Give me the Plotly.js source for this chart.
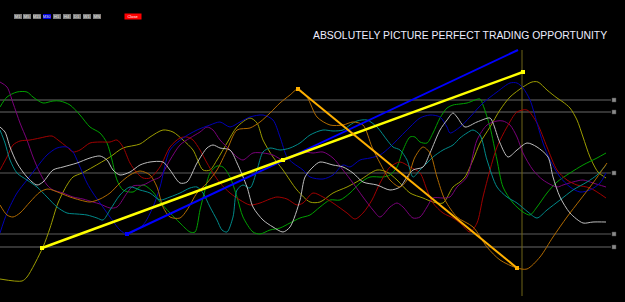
<!DOCTYPE html>
<html><head><meta charset="utf-8">
<script src="https://cdn.plot.ly/plotly-3.0.1.min.js"></script>
<style>html,body{margin:0;padding:0;background:#000;}#c{width:625px;height:302px;}</style>
</head><body><div id="c"></div>
<script>
// Series values (bar position, indicator level in chart units; y grows downward)
const oliveX=[0,22,27,43,50,58,67,73,82,93,110,123,140,150,163,173,183,193,203,210,217,227,237,250,257,263,273,283,297,310,320,333,347,360,377,387,397,410,423,433,443,453,460,465,473,480,490,500,510,523,532,538,547,557,563,570,577,583,590,598,606];
const oliveY=[279,281,277,247,228,203,185,177,173,167,157,148,144,137,130,132,140,150,170,170,160,143,127,118,123,140,157,170,190,202,202,193,187,180,170,172,180,193,198,202,203,187,182,177,160,143,127,110,97,87,82,82,90,98,102,108,120,137,157,172,178];
const greenX=[0,7,17,27,33,43,53,60,70,80,90,100,107,112,117,123,133,143,153,160,170,180,190,195,200,205,210,217,223,230,237,243,253,260,270,280,290,300,310,320,330,340,350,360,370,383,390,397,403,410,415,420,427,433,440,447,453,460,467,480,483,490,497,503,513,523,530,537,547,557,570,583,597,606];
const greenY=[107,97,92,92,97,103,101,101,105,115,127,133,143,160,180,190,192,185,192,202,213,223,232,232,210,190,173,166,167,177,197,217,232,234,230,228,223,218,215,207,200,200,193,183,177,177,175,167,150,137,137,142,143,133,118,108,105,104,103,99,105,127,160,187,203,212,215,207,193,182,173,165,158,153];
const purpleX=[0,7,13,20,27,33,40,47,53,63,73,83,93,100,110,117,127,133,143,153,160,170,180,190,200,207,213,220,230,237,243,253,263,273,283,293,303,313,323,333,343,353,363,373,380,390,397,403,413,420,427,433,443,450,457,467,477,487,497,503,510,517,523,533,543,557,563,573,583,593,606];
const purpleY=[82,87,103,123,140,157,173,185,190,193,197,199,202,204,208,207,193,186,185,180,177,160,145,138,132,127,130,140,150,157,160,153,153,155,160,157,152,153,152,158,170,183,197,210,217,207,203,207,218,217,207,198,198,197,187,177,140,125,121,121,125,137,153,170,180,187,185,182,180,183,187];
const redX=[0,7,13,20,30,40,52,58,67,73,80,90,100,110,117,123,130,137,143,150,160,170,180,187,193,200,207,213,220,230,240,250,260,270,277,287,297,303,313,323,333,347,355,363,372,380,390,400,410,420,427,433,443,453,460,470,477,483,490,497,507,517,527,537,547,557,567,577,590,606];
const redY=[170,157,145,141,140,138,136,140,147,152,150,143,142,142,140,147,163,173,178,178,167,147,138,137,140,150,163,173,183,193,200,205,203,199,197,199,205,203,193,197,203,213,219,213,200,183,167,162,167,173,190,203,213,218,223,232,223,197,170,147,127,112,110,123,147,170,180,185,188,198];
const blueX=[0,7,17,27,37,47,57,67,73,80,87,93,100,110,120,127,143,153,160,170,183,197,210,220,230,240,250,263,273,280,287,293,303,310,323,333,343,350,360,370,380,390,400,410,420,430,440,447,450,460,470,483,497,510,517,523,530,537,543,550,560,570,580,590,600,606];
const blueY=[233,213,193,180,167,155,148,147,152,167,183,193,203,217,230,234,225,207,187,150,138,130,125,122,127,122,117,115,120,137,157,163,170,177,179,175,165,167,160,158,155,147,137,127,118,115,117,127,133,127,117,103,92,83,83,88,100,123,143,160,177,187,192,190,183,173];
const tealX=[0,5,10,17,27,37,47,57,67,77,87,97,103,110,120,130,140,150,160,170,180,190,197,203,210,217,222,227,233,237,243,250,257,263,270,280,290,300,310,323,333,343,350,357,367,377,387,393,400,407,413,420,427,433,443,453,460,467,473,480,487,497,507,517,528,537,547,560,573,587,597,606];
const tealY=[130,143,160,173,180,187,197,207,213,214,215,218,220,210,195,187,190,193,200,197,193,188,187,193,207,220,230,232,217,190,185,188,170,152,148,150,148,143,135,130,131,130,125,121,120,127,140,147,150,160,177,170,163,157,150,145,138,133,130,135,160,187,197,203,212,218,210,200,190,182,175,165,158];
const grayX=[0,5,10,17,27,37,43,53,63,77,90,100,107,113,120,130,140,150,163,170,180,187,197,207,213,220,230,237,247,253,263,273,283,290,300,305,313,320,333,343,353,363,377,390,400,407,413,423,430,440,447,453,457,465,477,490,493,500,508,517,527,537,548,553,560,570,583,593,606];
const grayY=[127,132,147,163,177,185,182,170,167,163,158,156,160,170,175,172,165,162,162,170,183,182,163,148,145,148,150,163,187,207,220,227,232,227,200,177,167,162,165,167,173,182,185,190,187,177,170,167,153,130,120,113,117,127,122,118,123,143,157,150,143,147,157,177,197,213,223,222,222];
const brownX=[0,7,13,20,30,40,48,60,70,80,90,100,110,120,130,140,150,157,163,170,180,187,197,207,217,227,237,250,260,270,280,290,298,307,317,330,343,353,363,372,380,390,400,407,415,423,430,437,445,457,473,487,500,517,527,540,553,567,580,593,607];
const brownY=[205,215,217,213,202,192,189,193,197,200,202,199,193,183,175,171,175,187,207,217,218,210,193,183,170,150,130,128,122,113,103,95,89,97,117,125,125,122,125,147,163,180,187,180,157,147,153,177,200,217,227,247,260,268,269,257,237,217,200,183,163];

// Drawn objects (trend lines, levels, cursor)
const yellowTrend={x:[42,283,523],y:[248,160,72]};
const blueTrend={x:[127,518],y:[234,50]};
const orangeTrend={x:[298,517],y:[89,268]};
const levelY=[100,112,173,234,247];
const levelColor=['#343434','#343434','#5c5c5c','#5c5c5c','#343434'];
const levelWidth=[2,2,1,1,2];
const cursorX=522;
const buttons=['M1','M5','M15','M30','H1','H4','D1','W1','MN'];
const activeButton='M30';
const titleText='ABSOLUTELY PICTURE PERFECT TRADING OPPORTUNITY';

function thin(x,y,c){return {x:x,y:y,type:'scatter',mode:'lines',line:{color:c,width:1,shape:'spline',smoothing:0.8},hoverinfo:'skip'};}

const traces=[
  thin(oliveX,oliveY,'#9c9c00'),
  thin(greenX,greenY,'#00a000'),
  thin(purpleX,purpleY,'#7a007a'),
  thin(redX,redY,'#a00000'),
  thin(blueX,blueY,'#0000b4'),
  thin(tealX,tealY,'#008a8a'),
  thin(grayX,grayY,'#bdbdbd'),
  thin(brownX,brownY,'#b06a00'),
  {x:blueTrend.x,y:blueTrend.y,type:'scatter',mode:'lines',line:{color:'#0000ff',width:2},hoverinfo:'skip'},
  {x:[blueTrend.x[0]],y:[blueTrend.y[0]],type:'scatter',mode:'markers',marker:{symbol:'square',size:4,color:'#0000ff'},hoverinfo:'skip'},
  {x:yellowTrend.x,y:yellowTrend.y,type:'scatter',mode:'lines+markers',line:{color:'#ffff00',width:2.5},marker:{symbol:'square',size:4,color:'#ffff00'},hoverinfo:'skip'},
  {x:orangeTrend.x,y:orangeTrend.y,type:'scatter',mode:'lines+markers',line:{color:'#ffb000',width:2},marker:{symbol:'square',size:4,color:'#ffb000'},hoverinfo:'skip'},
  {x:levelY.map(()=>614),y:levelY,type:'scatter',mode:'markers',marker:{symbol:'square',size:4,color:'#8a8a8a',line:{color:'#444',width:0.5}},hoverinfo:'skip'}
];

const shapes=[];
levelY.forEach((v,i)=>shapes.push({type:'line',xref:'x',yref:'y',x0:0,x1:611,y0:v,y1:v,line:{color:levelColor[i],width:levelWidth[i]},layer:'below'}));
shapes.push({type:'line',xref:'x',yref:'y',x0:cursorX,x1:cursorX,y0:50,y1:296,line:{color:'#6e6418',width:1},layer:'below'});

const annotations=[];
buttons.forEach((b,i)=>annotations.push({x:17.5+i*9.9,y:16.5,xref:'x',yref:'y',text:b,showarrow:false,width:8,height:5,
  bgcolor:b===activeButton?'#0000e0':'#7c7c7c',borderwidth:0,borderpad:0,
  font:{size:4,color:'#e0e0e0',family:'Arial'}}));
annotations.push({x:133,y:16.5,xref:'x',yref:'y',text:'Close',showarrow:false,width:16,height:5,bgcolor:'#ff0000',borderpad:0,font:{size:4,color:'#ffffff',family:'Arial'}});
annotations.push({x:460,y:35,xref:'x',yref:'y',text:titleText,showarrow:false,font:{size:10.4,color:'#eeeeff',family:'Arial'}});

const layout={width:625,height:302,margin:{l:0,r:0,t:0,b:0},paper_bgcolor:'#000',plot_bgcolor:'#000',showlegend:false,
  xaxis:{range:[0,625],visible:false,fixedrange:true},
  yaxis:{range:[302,0],visible:false,fixedrange:true},
  shapes:shapes,annotations:annotations};
Plotly.newPlot('c',traces,layout,{displayModeBar:false,staticPlot:true});
</script></body></html>
